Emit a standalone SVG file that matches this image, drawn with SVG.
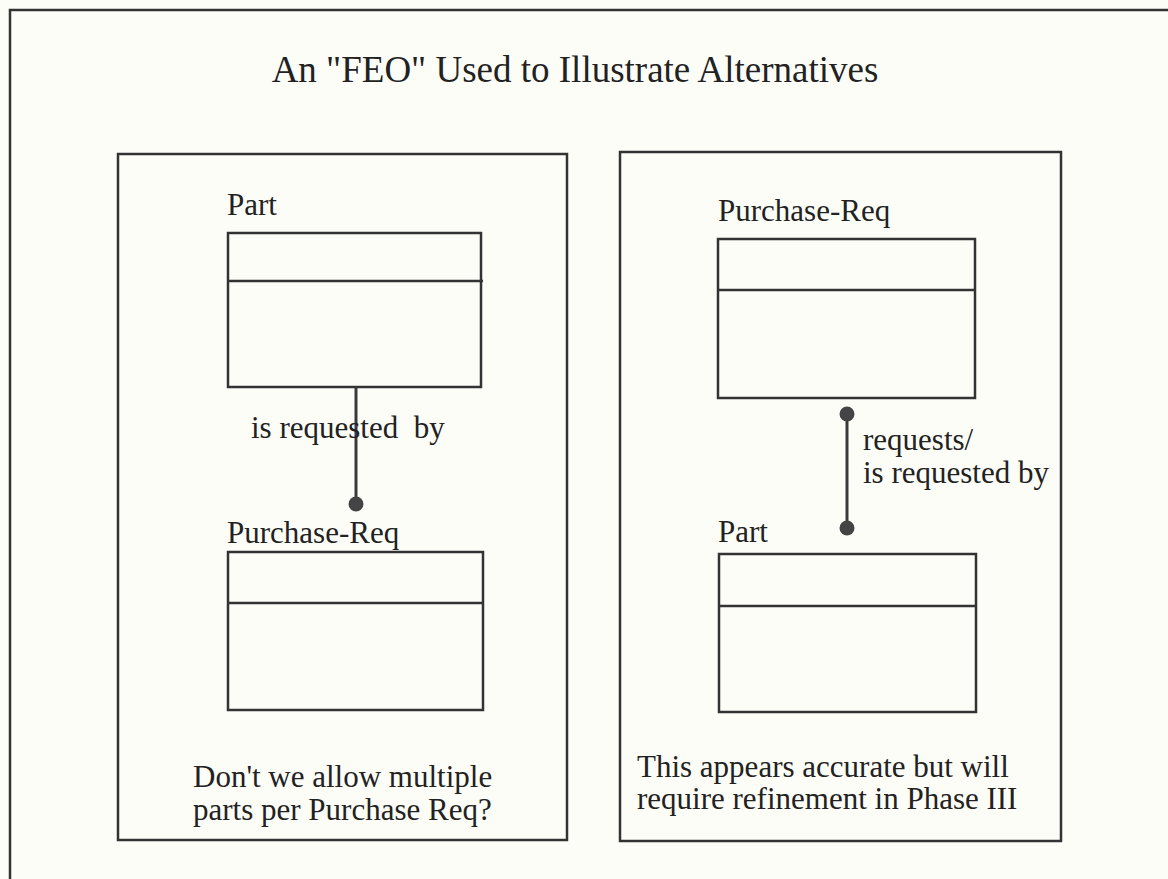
<svg xmlns="http://www.w3.org/2000/svg" width="1168" height="879" viewBox="0 0 1168 879">
<style>
.t{font-family:"Liberation Serif","Times New Roman",serif;fill:#222}
.b{font-size:31px}
.ttl{font-size:37px}
.frame{fill:none;stroke:#333;stroke-width:2.5}
.box{fill:none;stroke:#333;stroke-width:2.5}
.conn{stroke:#3a3a3a;stroke-width:3;fill:none}
.dot{fill:#444}
</style>
<rect x="0" y="0" width="1168" height="879" fill="#fdfdf8"/>
<rect class="frame" x="10" y="10" width="1200" height="900"/>
<text class="t ttl" x="575" y="82" text-anchor="middle">An "FEO" Used to Illustrate Alternatives</text>

<g id="panel-left">
<rect class="frame" x="118" y="154" width="449" height="686"/>
<text class="t b" x="193" y="787">Don't we allow multiple</text>
<text class="t b" x="193" y="820">parts per Purchase Req?</text>
</g>
<g id="panel-right">
<rect class="frame" x="620" y="152" width="441" height="689"/>
<text class="t b" x="637" y="777">This appears accurate but will</text>
<text class="t b" x="637" y="809">require refinement in Phase III</text>
</g>

<g id="left-part">
<text class="t b" x="227" y="215">Part</text>
<rect class="box" x="228" y="233" width="253" height="154"/>
<line class="box" x1="227" y1="281" x2="483" y2="281"/>
</g>
<g id="left-purchase-req">
<text class="t b" x="227" y="543">Purchase-Req</text>
<rect class="box" x="228" y="552" width="255" height="158"/>
<line class="box" x1="228" y1="603" x2="483" y2="603"/>
</g>
<g id="right-purchase-req">
<text class="t b" x="718" y="221">Purchase-Req</text>
<rect class="box" x="718" y="239" width="257" height="159"/>
<line class="box" x1="718" y1="290" x2="975" y2="290"/>
</g>
<g id="right-part">
<text class="t b" x="718" y="542">Part</text>
<rect class="box" x="719" y="554" width="257" height="158"/>
<line class="box" x1="719" y1="606" x2="976" y2="606"/>
</g>

<g id="connectors">
<line class="conn" x1="356" y1="387" x2="356" y2="504"/>
<circle class="dot" cx="356" cy="504" r="7.5"/>
<text class="t b" x="251" y="438" xml:space="preserve">is requested  by</text>
<line class="conn" x1="847" y1="414" x2="847" y2="528"/>
<circle class="dot" cx="847" cy="414" r="7.5"/>
<circle class="dot" cx="847" cy="528" r="7.5"/>
<text class="t b" x="863" y="450">requests/</text>
<text class="t b" x="863" y="483">is requested by</text>
</g>
</svg>
